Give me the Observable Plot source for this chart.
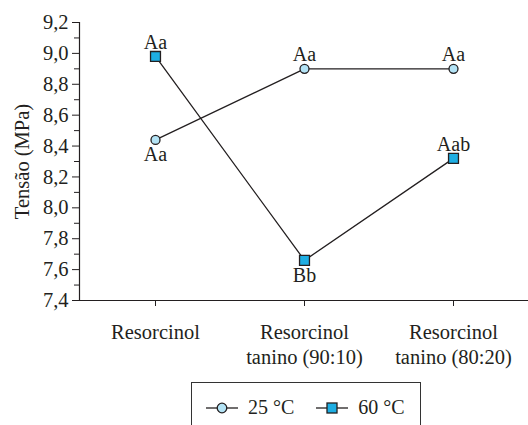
<!DOCTYPE html>
<html>
<head>
<meta charset="utf-8">
<script src="https://cdn.jsdelivr.net/npm/d3@7"></script>
<script src="https://cdn.jsdelivr.net/npm/@observablehq/plot@0.6"></script>
<style>
  body { margin: 0; background: #fff; font-family: "Liberation Serif", serif; color: #231f20; }
  #chart svg { display: block; }
  .legend { margin-left: 191px; width: 230px; height: 50px; box-sizing: border-box; border: 1.5px solid #333; border-bottom: none;
            display: flex; align-items: center; padding-left: 14px; font-size: 20px; margin-top: 4px; white-space: nowrap; }
  .legend span { margin-left: 10px; margin-right: 22px; white-space: nowrap; }
  .legend svg { display: block; flex: none; }
</style>
</head>
<body>
<div id="chart"></div>
<script>
const categories = ["Resorcinol", "Resorcinol tanino (90:10)", "Resorcinol tanino (80:20)"];
const tickLabels = ["Resorcinol", "Resorcinol\ntanino (90:10)", "Resorcinol\ntanino (80:20)"];
const series = ["25 °C", "60 °C"];
const values25 = [8.44, 8.90, 8.90];
const values60 = [8.98, 7.66, 8.32];
const letters25 = ["Aa", "Aa", "Aa"];
const letters60 = ["Aa", "Bb", "Aab"];
const side25 = ["below", "above", "above"];
const side60 = ["above", "below", "above"];
const yTicks = [7.4, 7.6, 7.8, 8.0, 8.2, 8.4, 8.6, 8.8, 9.0, 9.2];
const yMinorTicks = [7.5, 7.7, 7.9, 8.1, 8.3, 8.5, 8.7, 8.9, 9.1];

const colors = {"25 °C": "#b3e3f5", "60 °C": "#1eaee3"};
const ink = "#231f20";

const rows = [];
categories.forEach((c, i) => {
  rows.push({cat: c, s: series[0], v: values25[i], lab: letters25[i], side: side25[i]});
  rows.push({cat: c, s: series[1], v: values60[i], lab: letters60[i], side: side60[i]});
});
const r25 = rows.filter(d => d.s === series[0]);
const r60 = rows.filter(d => d.s === series[1]);

const font = "Liberation Serif, serif";
const chart = Plot.plot({
  width: 528, height: 378,
  marginLeft: 79, marginRight: 0, marginTop: 22, marginBottom: 78,
  style: {fontFamily: font, fontSize: "20px", color: ink, background: "#fff"},
  x: {type: "point", domain: categories, padding: 0.5},
  y: {domain: [7.4, 9.2]},
  marks: [
    Plot.frame({anchor: "left", stroke: ink, strokeWidth: 1.2}),
    Plot.ruleY([7.4], {stroke: ink, strokeWidth: 1.2}),
    Plot.axisY({ticks: yTicks, tickSize: 7, tickPadding: 4, tickFormat: d => d3.format(".1f")(d).replace(".", ","), label: null, stroke: ink, fill: ink, fontSize: 20.5}),
    Plot.axisY({ticks: yMinorTicks, tickSize: 5, tickFormat: () => "", label: null, stroke: ink}),
    Plot.axisX({tickSize: 6, tickPadding: 14, tickFormat: d => tickLabels[categories.indexOf(d)], lineHeight: 1.25, label: null, stroke: ink, fill: ink, fontSize: 20.5, lineAnchor: "top"}),
    Plot.text(["Tensão (MPa)"], {frameAnchor: "left", textAnchor: "middle", rotate: -90, dx: -57, fontSize: 20.5, fill: ink}),
    Plot.line(r25, {x: "cat", y: "v", stroke: ink, strokeWidth: 1.3}),
    Plot.line(r60, {x: "cat", y: "v", stroke: ink, strokeWidth: 1.3}),
    Plot.dot(r25, {x: "cat", y: "v", r: 4.5, fill: colors["25 °C"], stroke: ink, strokeWidth: 1.3}),
    Plot.dot(r60, {x: "cat", y: "v", symbol: "square", r: 5.6, fill: colors["60 °C"], stroke: ink, strokeWidth: 1.3}),
    Plot.text(rows.filter(d => d.side === "above"), {x: "cat", y: "v", text: "lab", dy: -14, fontSize: 20, fill: ink}),
    Plot.text(rows.filter(d => d.side === "below"), {x: "cat", y: "v", text: "lab", dy: 15, fontSize: 20, fill: ink})
  ]
});
document.getElementById("chart").appendChild(chart);

const legend = document.createElement("div");
legend.className = "legend";
series.forEach(s => {
  const sym = s === series[0]
    ? `<svg width="32" height="14"><line x1="0" y1="7" x2="32" y2="7" stroke="${ink}" stroke-width="1.3"/><circle cx="16" cy="7" r="4.8" fill="${colors[s]}" stroke="${ink}" stroke-width="1.3"/></svg>`
    : `<svg width="32" height="14"><line x1="0" y1="7" x2="32" y2="7" stroke="${ink}" stroke-width="1.3"/><rect x="11" y="2" width="10" height="10" fill="${colors[s]}" stroke="${ink}" stroke-width="1.3"/></svg>`;
  legend.insertAdjacentHTML("beforeend", sym + `<span>${s}</span>`);
});
document.body.appendChild(legend);
</script>
</body>
</html>
